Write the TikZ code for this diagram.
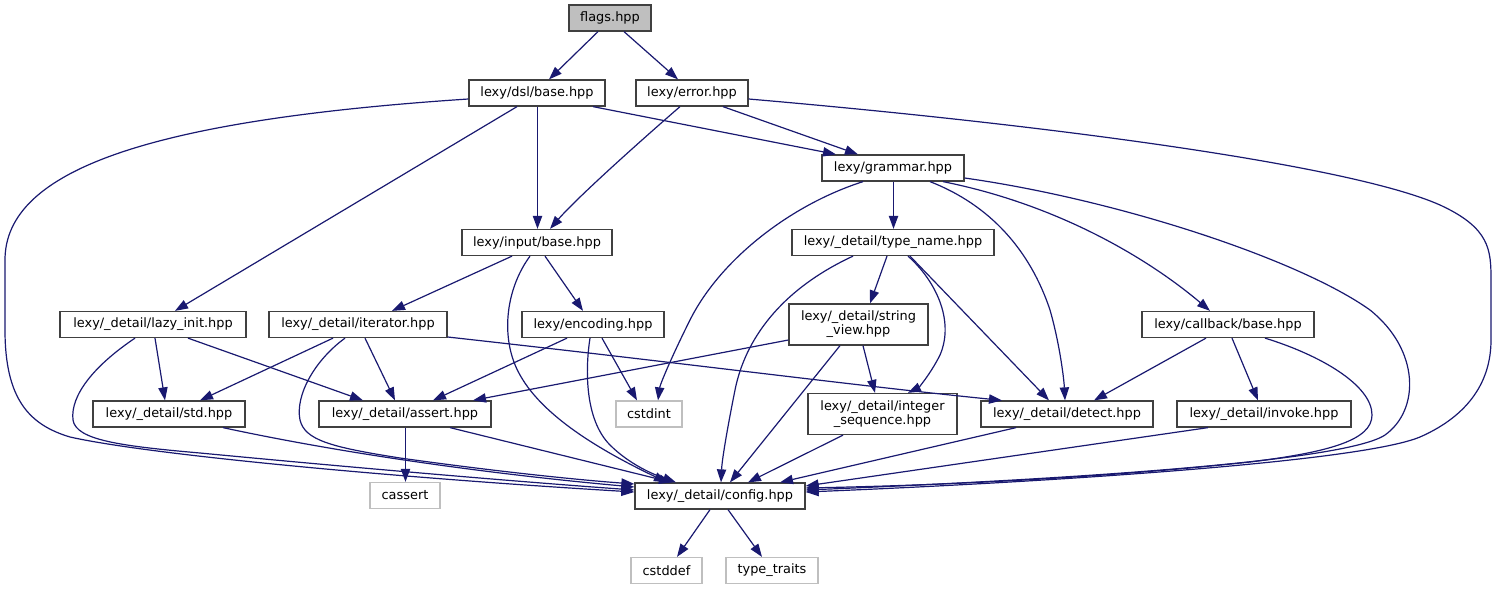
\documentclass[tikz,border=0pt]{standalone}
\usepackage{fontspec}
\setmainfont{DejaVu Sans}
\usetikzlibrary{arrows.meta}
\definecolor{edgeblue}{HTML}{191970}
\definecolor{ndborder}{HTML}{404040}
\definecolor{extborder}{HTML}{BFBFBF}
\definecolor{flagfill}{HTML}{BFBFBF}
\tikzset{
  nd/.style={draw=ndborder, line width=1.25pt, fill=white, inner sep=0pt, text=black,
    font=\fontsize{12.9}{14}\selectfont, align=center},
  ext/.style={nd, draw=extborder},
  edge/.style={draw=edgeblue, line width=1.2pt, -{Triangle[length=13pt,width=9.3pt]}},
}
\begin{document}
\begin{tikzpicture}[x=1pt,y=-1pt]
\useasboundingbox (0,0) rectangle (1493,589);
% nodes
\node[nd, fill=flagfill, minimum width=82, minimum height=26] (flags) at (610,18) {flags.hpp};
\node[nd, minimum width=136, minimum height=26] (dsl) at (537,93) {lexy/dsl/base.hpp};
\node[nd, minimum width=112, minimum height=26] (err) at (692,93) {lexy/error.hpp};
\node[nd, minimum width=142, minimum height=26] (gram) at (893,168) {lexy/grammar.hpp};
\node[nd, minimum width=150, minimum height=26] (inb) at (537,242.5) {lexy/input/base.hpp};
\node[nd, minimum width=202, minimum height=26] (tn) at (893,242.5) {lexy/\_detail/type\_name.hpp};
\node[nd, minimum width=186, minimum height=26] (lazy) at (153,324.5) {lexy/\_detail/lazy\_init.hpp};
\node[nd, minimum width=178, minimum height=26] (iter) at (358,324.5) {lexy/\_detail/iterator.hpp};
\node[nd, minimum width=142, minimum height=26] (enc) at (593,324.5) {lexy/encoding.hpp};
\node[nd, minimum width=139, minimum height=41] (sv) at (858.5,324.5) {lexy/\_detail/string\\\_view.hpp};
\node[nd, minimum width=172, minimum height=26] (cb) at (1228,324.5) {lexy/callback/base.hpp};
\node[nd, minimum width=152, minimum height=26] (std) at (169,414) {lexy/\_detail/std.hpp};
\node[nd, minimum width=172, minimum height=26] (asrt) at (405,414) {lexy/\_detail/assert.hpp};
\node[ext, minimum width=66, minimum height=26] (cstdint) at (649,414) {cstdint};
\node[nd, minimum width=149, minimum height=41] (iseq) at (882.5,414) {lexy/\_detail/integer\\\_sequence.hpp};
\node[nd, minimum width=172, minimum height=26] (det) at (1067,414) {lexy/\_detail/detect.hpp};
\node[nd, minimum width=174, minimum height=26] (inv) at (1264,414) {lexy/\_detail/invoke.hpp};
\node[ext, minimum width=70, minimum height=26] (cassert) at (405,495.5) {cassert};
\node[nd, minimum width=170, minimum height=26] (cfg) at (720,496) {lexy/\_detail/config.hpp};
\node[ext, minimum width=71, minimum height=26] (cstddef) at (666.5,570.5) {cstddef};
\node[ext, minimum width=92, minimum height=26] (tt) at (772,570.5) {type\_traits};
% edges
\draw[edge] (flags.south -| 598,0) -- (dsl.north -| 549,0);
\draw[edge] (flags.south -| 624,0) -- (err.north -| 678,0);
\draw[edge] (dsl.west |- 0,99) .. controls (150,120) and (5,170) .. (5,260) -- (5,330) .. controls (5,400) and (30,425) .. (70,437) .. controls (150,455) and (400,478) .. (cfg.west |- 0,492);
\draw[edge] (dsl.south -| 517,0) -- (lazy.north -| 175,0);
\draw[edge] (dsl.south -| 537.5,0) -- (inb.north -| 537.5,0);
\draw[edge] (dsl.south -| 593,0) -- (gram.north -| 836,0);
\draw[edge] (err.south -| 680,0) .. controls (630,150) and (575,200) .. (inb.north -| 550,0);
\draw[edge] (err.south -| 723,0) -- (gram.north -| 858,0);
\draw[edge] (err.east |- 0,99) .. controls (1050,125) and (1350,165) .. (1440,205) .. controls (1490,228) and (1491,250) .. (1491,280) -- (1491,340) .. controls (1491,380) and (1470,415) .. (1420,437) .. controls (1360,462) and (1050,482) .. (cfg.east |- 0,492);
\draw[edge] (gram.south -| 863,0) .. controls (790,205) and (720,260) .. (690,320) .. controls (670,360) and (660,385) .. (cstdint.north -| 658,0);
\draw[edge] (gram.south -| 893.5,0) -- (tn.north -| 893.5,0);
\draw[edge] (gram.south -| 930,0) .. controls (990,205) and (1030,250) .. (1050,310) .. controls (1060,345) and (1064,380) .. (det.north -| 1065,0);
\draw[edge] (gram.south -| 943,0) .. controls (1060,205) and (1150,260) .. (cb.north -| 1210,0);
\draw[edge] (gram.east |- 0,178) .. controls (1120,200) and (1300,260) .. (1370,310) .. controls (1420,350) and (1420,410) .. (1385,435) .. controls (1340,465) and (1000,482) .. (cfg.east |- 0,490);
\draw[edge] (inb.south -| 512,0) -- (iter.north -| 392,0);
\draw[edge] (inb.south -| 545,0) -- (enc.north -| 583,0);
\draw[edge] (inb.south -| 530,0) .. controls (505,290) and (500,340) .. (520,375) .. controls (545,420) and (610,455) .. (cfg.north -| 667,0);
\draw[edge] (tn.south -| 853,0) .. controls (780,290) and (745,340) .. (735,390) .. controls (727,430) and (722,460) .. (cfg.north -| 721,0);
\draw[edge] (tn.south -| 887,0) -- (sv.north -| 870,0);
\draw[edge] (tn.south -| 908,0) .. controls (935,280) and (955,320) .. (940,355) .. controls (930,375) and (918,388) .. (iseq.north -| 908,0);
\draw[edge] (tn.south -| 910,0) -- (det.north -| 1049,0);
\draw[edge] (lazy.south -| 135,0) .. controls (95,365) and (70,395) .. (73,420) .. controls (76,440) and (120,446) .. (200,453) .. controls (400,472) and (550,484) .. (cfg.west |- 0,490);
\draw[edge] (lazy.south -| 155,0) -- (std.north -| 165,0);
\draw[edge] (lazy.south -| 188,0) -- (asrt.north -| 363,0);
\draw[edge] (iter.south -| 333,0) -- (std.north -| 200,0);
\draw[edge] (iter.south -| 365,0) -- (asrt.north -| 395,0);
\draw[edge] (iter.south -| 345,0) .. controls (315,360) and (295,395) .. (300,420) .. controls (305,440) and (330,447) .. (400,458) .. controls (500,472) and (580,480) .. (cfg.west |- 0,484);
\draw[edge] (iter.east |- 0,337) .. controls (700,365) and (850,385) .. (det.north -| 1002,0);
\draw[edge] (enc.south -| 567,0) -- (asrt.north -| 433,0);
\draw[edge] (enc.south -| 590,0) .. controls (585,370) and (585,420) .. (610,445) .. controls (630,465) and (655,475) .. (cfg.north -| 676,0);
\draw[edge] (enc.south -| 602,0) -- (cstdint.north -| 637,0);
\draw[edge] (sv.west |- 0,340) -- (asrt.north -| 473,0);
\draw[edge] (sv.south -| 840,0) -- (cfg.north -| 730,0);
\draw[edge] (sv.south -| 863,0) -- (iseq.north -| 875,0);
\draw[edge] (cb.south -| 1206,0) -- (det.north -| 1094,0);
\draw[edge] (cb.south -| 1232,0) -- (inv.north -| 1258,0);
\draw[edge] (cb.south -| 1265,0) .. controls (1320,355) and (1372,385) .. (1372,415) .. controls (1372,440) and (1330,452) .. (1250,462) .. controls (1100,478) and (950,485) .. (cfg.east |- 0,488);
\draw[edge] (std.south -| 223,0) .. controls (350,455) and (500,475) .. (cfg.west |- 0,487);
\draw[edge] (asrt.south -| 405.5,0) -- (cassert.north -| 405.5,0);
\draw[edge] (asrt.south -| 450,0) -- (cfg.north -| 672,0);
\draw[edge] (iseq.south -| 843,0) -- (cfg.north -| 748,0);
\draw[edge] (det.south -| 1016,0) -- (cfg.north -| 780,0);
\draw[edge] (inv.south -| 1208,0) -- (cfg.east |- 0,486);
\draw[edge] (cfg.south -| 710,0) -- (cstddef.north -| 677,0);
\draw[edge] (cfg.south -| 728,0) -- (tt.north -| 762,0);
\end{tikzpicture}
\end{document}
